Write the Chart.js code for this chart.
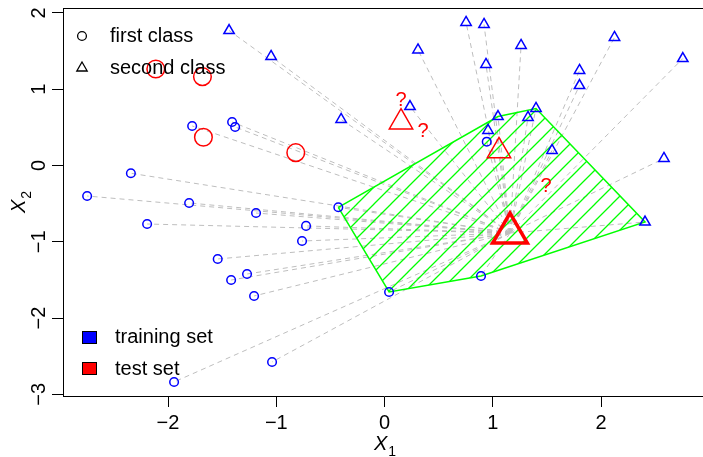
<!DOCTYPE html>
<html>
<head>
<meta charset="utf-8">
<script src="https://cdn.jsdelivr.net/npm/chart.js@4.4.1/dist/chart.umd.min.js"></script>
<style>
  html, body { margin:0; padding:0; overflow:hidden; background:#fff; }
  #wrap { width:706px; height:457px; }
</style>
</head>
<body>
<div id="wrap"><canvas id="c" width="706" height="457"></canvas></div>
<script>
// ── DATA ──────────────────────────────────────────────
// training set, first class (circles)
var circX = [-2.747,-2.343,-2.193,-1.805,-1.541,-1.417,-1.777,-1.408,-1.380,-1.187,
             -0.725,-0.762,-1.270,-1.205,-0.427, 0.042, 0.891, 0.944,-1.944,-1.039];
var circY = [-0.400,-0.102,-0.767,-0.491,-1.225,-1.501, 0.518, 0.570, 0.505,-0.623,
             -0.792,-0.990,-1.422,-1.710,-0.548,-1.658,-1.448, 0.312,-2.837,-2.575];
// training set, second class (triangles)
var triX = [-1.436,-1.048,-0.401, 0.309, 0.235, 0.753, 0.919, 1.261, 0.937, 2.124,
             2.755, 1.801, 1.801, 1.399, 1.325, 1.048, 0.956, 1.547, 2.581, 2.406];
var triY = [ 1.769, 1.429, 0.603, 1.514, 0.773, 1.874, 1.848, 1.573, 1.324, 1.678,
             1.402, 1.245, 1.048, 0.747, 0.629, 0.642, 0.459, 0.197, 0.092,-0.741];
// test set
var testCircX = [-2.113,-1.682,-1.673,-0.820];
var testCircY = [ 1.265, 1.164, 0.370, 0.168];
var testTriX  = [0.152, 1.057];
var testTriY  = [0.567, 0.190];
// the point being classified
var queryX = [1.159];
var queryY = [-0.885];
// neighbourhood hull (training points)
var hullX = [-0.427, 1.048, 1.399, 2.406, 0.891, 0.042];
var hullY = [-0.548, 0.642, 0.747,-0.741,-1.448,-1.658];
// question marks
var qX = [0.152, 0.355, 1.491];
var qY = [0.858, 0.452,-0.269];
// axes
var xTicks = [-2,-1,0,1,2];
var yTicks = [-3,-2,-1,0,1,2];

var FONT = '"Liberation Sans", Arial, Helvetica, sans-serif';
Chart.defaults.font.family = FONT;

function pts(xs, ys){ return xs.map(function(x,i){ return {x:x, y:ys[i]}; }); }
function minus(v){ return v < 0 ? '\u2212' + Math.abs(v) : String(v); }

// dashed lines from every training point to the query point
var segs = [];
pts(circX, circY).concat(pts(triX, triY)).forEach(function(p){
  segs.push({x:queryX[0], y:queryY[0]}, p, {x:null, y:null});
});
var hull = pts(hullX, hullY); hull.push(hull[0]);

function hatch(){
  var s = 17, c = document.createElement('canvas');
  c.width = s; c.height = s;
  var g = c.getContext('2d');
  g.strokeStyle = '#00FF00'; g.lineWidth = 1.3;
  g.beginPath();
  g.moveTo(-2, s+2); g.lineTo(s+2, -2);
  g.moveTo(-2, 2); g.lineTo(2, -2);
  g.moveTo(s-2, s+2); g.lineTo(s+2, s-2);
  g.stroke();
  return g.createPattern(c, 'repeat');
}

function marker(color, style, r, w, order){
  return { pointStyle:style, pointRadius:r, pointHoverRadius:r, pointBorderColor:color,
           pointBackgroundColor:'rgba(0,0,0,0)', pointBorderWidth:w, pointHoverBorderWidth:w, order:order };
}

// keep the plot box where the reference has it
function fixBox(size){
  return function(s){
    if(s.isHorizontal()) s.height = size; else s.width = size;
    s.paddingTop = 0; s.paddingBottom = 0; s.paddingLeft = 0; s.paddingRight = 0;
  };
}

var decor = {
  id:'decor',
  afterDraw: function(chart){
    var ctx = chart.ctx, a = chart.chartArea, sx = chart.scales.x, sy = chart.scales.y;
    ctx.save();
    ctx.strokeStyle = '#000'; ctx.lineWidth = 1;
    ctx.beginPath(); ctx.moveTo(a.left, a.top + 0.5); ctx.lineTo(a.right, a.top + 0.5); ctx.stroke();

    // question marks
    ctx.fillStyle = '#FF0000'; ctx.font = '20px ' + FONT;
    ctx.textAlign = 'center'; ctx.textBaseline = 'middle';
    qX.forEach(function(x,i){ ctx.fillText('?', sx.getPixelForValue(x), sy.getPixelForValue(qY[i])); });

    // class legend
    ctx.fillStyle = '#000'; ctx.textAlign = 'left';
    ctx.lineWidth = 1.3;
    ctx.beginPath(); ctx.arc(82, 36, 4.4, 0, Math.PI*2); ctx.stroke();
    ctx.beginPath(); ctx.moveTo(82, 62); ctx.lineTo(87.2, 71); ctx.lineTo(76.8, 71); ctx.closePath(); ctx.stroke();
    ctx.fillText('first class', 110, 36);
    ctx.fillText('second class', 110, 68);

    // set legend
    ctx.lineWidth = 1;
    ctx.fillStyle = '#0000FF'; ctx.fillRect(82.5, 331.5, 14, 12); ctx.strokeRect(82.5, 331.5, 14, 12);
    ctx.fillStyle = '#FF0000'; ctx.fillRect(82.5, 362.5, 14, 12); ctx.strokeRect(82.5, 362.5, 14, 12);
    ctx.fillStyle = '#000';
    ctx.fillText('training set', 115, 337);
    ctx.fillText('test set', 115, 369);

    // axis titles
    ctx.textBaseline = 'alphabetic';
    ctx.font = 'italic 20px ' + FONT;
    var w = ctx.measureText('X').width;
    ctx.fillText('X', 374, 450);
    ctx.font = '14px ' + FONT;
    ctx.fillText('1', 374 + w + 1, 456);

    ctx.translate(25, 213); ctx.rotate(-Math.PI/2);
    ctx.font = 'italic 20px ' + FONT;
    ctx.fillText('X', 0, 0);
    ctx.font = '14px ' + FONT;
    ctx.fillText('2', w + 1, 6);
    ctx.restore();
  }
};

new Chart(document.getElementById('c'), {
  type:'scatter',
  data:{ datasets:[
    { type:'line', data:segs, borderColor:'#BEBEBE', borderWidth:1, borderDash:[5,4],
      pointRadius:0, spanGaps:false, fill:false, order:7 },
    { type:'line', data:hull, borderColor:'#00FF00', borderWidth:1.5, backgroundColor:hatch(),
      fill:'shape', pointRadius:0, tension:0, order:6 },
    Object.assign({ data:pts(circX, circY) }, marker('#0000FF', 'circle', 4.3, 1.5, 5)),
    Object.assign({ data:pts(triX, triY) }, marker('#0000FF', 'triangle', 6, 1.5, 4)),
    Object.assign({ data:pts(testCircX, testCircY) }, marker('#FF0000', 'circle', 8.8, 1.5, 3)),
    Object.assign({ data:pts(testTriX, testTriY) }, marker('#FF0000', 'triangle', 13.5, 1.5, 2)),
    Object.assign({ data:pts(queryX, queryY) }, marker('#FF0000', 'triangle', 20, 3.5, 1))
  ]},
  options:{
    responsive:false, animation:false,
    layout:{ autoPadding:false, padding:{ left:0, right:1, top:8, bottom:0 } },
    plugins:{ legend:{ display:false }, tooltip:{ enabled:false } },
    scales:{
      x:{ type:'linear', min:-2.97, max:2.96,
          afterBuildTicks:function(s){ s.ticks = xTicks.map(function(v){ return {value:v}; }); },
          afterFit:fixBox(61),
          grid:{ drawOnChartArea:false, tickLength:11, tickColor:'#000', tickWidth:1 },
          border:{ display:true, color:'#000', width:1 },
          ticks:{ color:'#000', font:{ size:20 }, padding:4, maxRotation:0, callback:minus } },
      y:{ type:'linear', min:-3.021, max:2.064,
          afterBuildTicks:function(s){ s.ticks = yTicks.map(function(v){ return {value:v}; }); },
          afterFit:fixBox(63),
          grid:{ drawOnChartArea:false, tickLength:11, tickColor:'#000', tickWidth:1 },
          border:{ display:true, color:'#000', width:1 },
          ticks:{ color:'#000', font:{ size:20 }, padding:1, minRotation:90, maxRotation:90,
                  crossAlign:'center', callback:minus } }
    }
  },
  plugins:[decor]
});
</script>
</body>
</html>
